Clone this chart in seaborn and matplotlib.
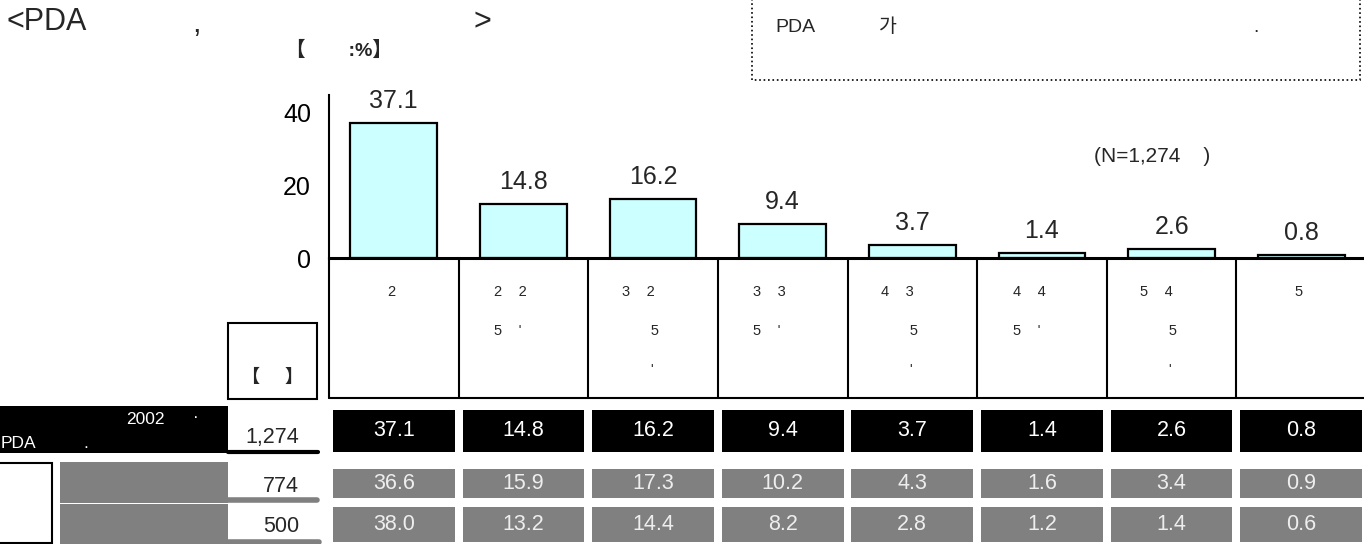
import numpy as np
import pandas as pd
import matplotlib
matplotlib.use('Agg')
import matplotlib.pyplot as plt
import matplotlib.transforms as mtransforms
from matplotlib.patches import Rectangle
import seaborn as sns

# data (korean glyphs are blank in the source, kept as blanks)
categories = ["2", "2    2\n5    '", "3    2\n       5\n       '", "3    3\n5    '",
              "4    3\n       5\n       '", "4    4\n5    '", "5    4\n       5\n       '", "5"]
total_pct = [37.1, 14.8, 16.2, 9.4, 3.7, 1.4, 2.6, 0.8]
group1_pct = [36.6, 15.9, 17.3, 10.2, 4.3, 1.6, 3.4, 0.9]
group2_pct = [38.0, 13.2, 14.4, 8.2, 2.8, 1.2, 1.4, 0.6]
row_n = ["1,274", "774", "500"]

df = pd.DataFrame({'cat': categories, 'pct': total_pct})

sns.set_theme(style='white')
plt.rcParams['font.family'] = ['Liberation Sans', 'Noto Sans CJK KR', 'DejaVu Sans']

W, H = 1364, 544
fig = plt.figure(figsize=(W / 100, H / 100), dpi=100)
fig.patch.set_facecolor('white')

# main bar axes, x=-0.5 at px 329, x=7.5 at px 1366
ax = fig.add_axes([329 / W, 1 - 258 / H, 1037 / W, (258 - 95) / H])
sns.barplot(data=df, x='cat', y='pct', color='#CCFFFF', saturation=1,
            edgecolor='black', linewidth=1.6, width=0.67, ax=ax)
ax.set_xlim(-0.5, 7.5)
ax.set_ylim(0, 44.7)
ax.set_yticks([0, 20, 40])
ax.set_xticks([])
ax.set_xlabel('')
ax.set_ylabel('')
ax.tick_params(axis='y', direction='in', length=6.5, width=1.3, labelsize=18, pad=13, colors='black')
for s in ['top', 'right']:
    ax.spines[s].set_visible(False)
ax.spines['left'].set_linewidth(1.5)
ax.spines['bottom'].set_linewidth(2.2)
ax.spines['left'].set_color('black')
ax.spines['bottom'].set_color('black')
ax.patch.set_alpha(0)
ax.bar_label(ax.containers[0], fmt='%.1f', padding=7, fontsize=18)

# overlay in pixel coords for the table and headings
ov = fig.add_axes([0, 0, 1, 1])
ov.set_xlim(0, W)
ov.set_ylim(H, 0)
ov.axis('off')
ov.patch.set_alpha(0)
bt = mtransforms.blended_transform_factory(ax.transData, ov.transData)

# title / notes
ov.text(6, 22, '<PDA', fontsize=22, va='center', ha='left')
ov.text(196, 24, ',', fontsize=22, va='center', ha='center')
ov.text(482, 22, '>', fontsize=22, va='center', ha='center')
ov.text(286, 50, '【        :%】', fontsize=14, va='center', ha='left', fontweight='bold')
ov.add_patch(Rectangle((752, -5), 608, 85, fill=False, ec='black', lw=1.2, ls=':'))
ov.text(775, 28, 'PDA', fontsize=14, va='center', ha='left')
ov.text(879, 27, '가', fontsize=14, va='center', ha='left')
ov.text(1253, 28, '.', fontsize=14, va='center', ha='left')
ov.text(1094, 156, '(N=1,274    )', fontsize=15, va='center', ha='left')

# category cells under the axis
n = len(categories)
for i in range(n + 1):
    ov.plot([i - 0.5, i - 0.5], [258, 398], color='black', lw=1.5, transform=bt)
ov.plot([-0.5, n - 0.5], [398, 398], color='black', lw=1.5, transform=bt)
for i, lab in enumerate(categories):
    ov.text(i - 0.1 if '\n' in lab else i - 0.02, 285, lab, fontsize=10.5, va='top', ha='center',
            multialignment='left', linespacing=3.25, transform=bt)

ov.add_patch(Rectangle((228, 323), 89, 76, fill=False, ec='black', lw=1.5))
ov.text(272, 377, '【     】', fontsize=13, va='center', ha='center', fontweight='bold')

# left block of the table
ov.add_patch(Rectangle((0, 406), 228, 47, color='black', lw=0))
ov.text(145, 419, '2002', fontsize=12.5, color='white', va='center', ha='center')
ov.text(196, 418, '·', fontsize=12.5, color='white', va='center', ha='center')
ov.text(1, 443, 'PDA', fontsize=12.5, color='white', va='center', ha='left')
ov.text(86, 444, '.', fontsize=12.5, color='white', va='center', ha='center')
ov.add_patch(Rectangle((-2, 463), 54, 80, fill=False, ec='black', lw=1.5))
ov.add_patch(Rectangle((60, 462), 168, 41, color='#808080', lw=0))
ov.add_patch(Rectangle((60, 504), 168, 40, color='#808080', lw=0))
ov.plot([228, 318], [452, 452], color='black', lw=3)
ov.plot([228, 317], [500, 500], color='#808080', lw=4)
ov.plot([228, 319], [542, 542], color='#808080', lw=4)

rows = [(total_pct, 410, 452, 'black', 'white', 437),
        (group1_pct, 469, 498, '#808080', '#EEEEEE', 486),
        (group2_pct, 507, 542, '#808080', '#EEEEEE', 526)]
for (vals, y0, y1, fc, tc, ylab), nlab in zip(rows, row_n):
    ov.text(299, ylab, nlab, fontsize=15.5, va='center', ha='right')
    for i, v in enumerate(vals):
        ov.add_patch(Rectangle((i - 0.47, y0), 0.94, y1 - y0, color=fc, lw=0, transform=bt))
        ov.text(i, (y0 + y1) / 2, f'{v:.1f}', fontsize=15.5, color=tc, va='center', ha='center',
                transform=bt)

fig.savefig('out.png', dpi=100)
